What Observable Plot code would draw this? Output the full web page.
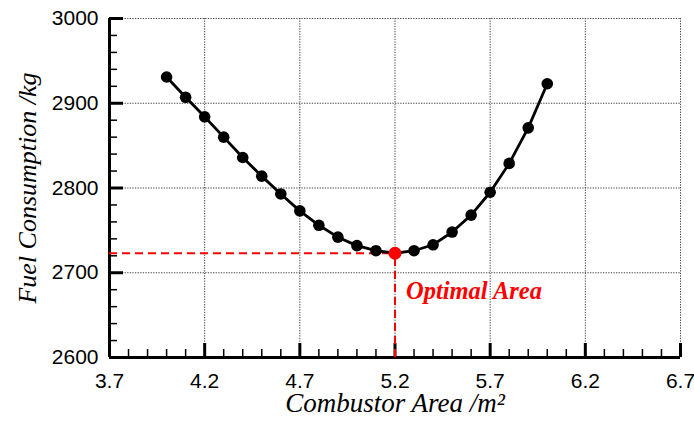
<!DOCTYPE html>
<html>
<head>
<meta charset="utf-8">
<script src="https://cdn.jsdelivr.net/npm/d3@7"></script>
<script src="https://cdn.jsdelivr.net/npm/@observablehq/plot@0.6"></script>
<style>
  html, body { margin: 0; padding: 0; background: #fff; }
</style>
</head>
<body>
<div id="chart"></div>
<script>
// Data
const area = [4.0, 4.1, 4.2, 4.3, 4.4, 4.5, 4.6, 4.7, 4.8, 4.9, 5.0, 5.1, 5.2, 5.3, 5.4, 5.5, 5.6, 5.7, 5.8, 5.9, 6.0];
const fuel = [2931, 2907, 2884, 2860, 2836, 2814, 2793, 2773, 2756, 2742, 2732, 2726, 2723, 2726, 2733, 2748, 2768, 2795, 2829, 2871, 2923];
const optimal = [{x: 5.2, y: 2723}];
const optimalLabel = "Optimal Area";

const xDomain = [3.7, 6.7];
const yDomain = [2600, 3000];
const xMajor = [3.7, 4.2, 4.7, 5.2, 5.7, 6.2, 6.7];
const yMajor = [2600, 2700, 2800, 2900, 3000];
const xMinor = d3.range(37, 68).map(d => d / 10);
const yMinor = d3.range(2600, 3001, 20);
const xTitle = "Combustor Area /m²";
const yTitle = "Fuel Consumption /kg";

const rows = area.map((x, i) => ({x, y: fuel[i]}));
const serif = "'Liberation Serif', 'Times New Roman', serif";

const chart = Plot.plot({
  width: 694,
  height: 426,
  marginLeft: 109,
  marginRight: 14,
  marginTop: 18,
  marginBottom: 69,
  style: {fontFamily: "'Liberation Sans', Arial, sans-serif", fontSize: "21px", background: "#fff", color: "#000"},
  x: {domain: xDomain, axis: null},
  y: {domain: yDomain, axis: null},
  marks: [
    Plot.gridX(xMajor, {stroke: "#444", strokeOpacity: 1, strokeWidth: 1, strokeDasharray: "1.3,1.3"}),
    Plot.gridY(yMajor, {stroke: "#444", strokeOpacity: 1, strokeWidth: 1, strokeDasharray: "1.3,1.3"}),
    // minor & major inward ticks (no labels)
    Plot.axisY(yMinor, {anchor: "left", tickSize: 8, dx: 8, fill: "none", label: null, strokeWidth: 1.5}),
    Plot.axisY(yMajor, {anchor: "left", tickSize: 14, dx: 14, fill: "none", label: null, strokeWidth: 3}),
    Plot.axisX(xMinor, {anchor: "bottom", tickSize: 8, dy: -8, fill: "none", label: null, strokeWidth: 1.5}),
    Plot.axisX(xMajor, {anchor: "bottom", tickSize: 14, dy: -14, fill: "none", label: null, strokeWidth: 3}),
    // tick labels
    Plot.axisY(yMajor, {anchor: "left", tickSize: 0, tickPadding: 11, fontSize: 21, label: null, tickFormat: d => String(d)}),
    Plot.axisX(xMajor, {anchor: "bottom", tickSize: 0, tickPadding: 16, fontSize: 21, label: null, tickFormat: d => d.toFixed(1)}),
    // axis lines
    Plot.ruleX([xDomain[0]], {stroke: "#000", strokeWidth: 3}),
    Plot.ruleY([yDomain[0]], {stroke: "#000", strokeWidth: 3}),
    // optimal guides
    Plot.ruleY(optimal, {y: "y", x1: xDomain[0], x2: "x", stroke: "#f00", strokeWidth: 2, strokeDasharray: "8,5"}),
    Plot.ruleX(optimal, {x: "x", y1: yDomain[0], y2: "y", stroke: "#f00", strokeWidth: 2, strokeDasharray: "8,5"}),
    // curve
    Plot.line(rows, {x: "x", y: "y", stroke: "#000", strokeWidth: 2.8}),
    Plot.dot(rows, {x: "x", y: "y", r: 5.8, fill: "#000", stroke: "none"}),
    Plot.dot(optimal, {x: "x", y: "y", r: 6.5, fill: "#f00", stroke: "none"}),
    Plot.text(optimal, {x: "x", y: "y", text: () => optimalLabel, dx: 11, dy: 46, textAnchor: "start", lineAnchor: "bottom",
      fill: "#f00", fontSize: 24.5, fontWeight: "bold", fontStyle: "italic", fontFamily: serif}),
    // axis titles
    Plot.text([xTitle], {frameAnchor: "bottom", dy: 54, textAnchor: "middle", lineAnchor: "bottom", fontSize: 27, fontStyle: "italic", fontFamily: serif, fill: "#000"}),
    Plot.text([yTitle], {frameAnchor: "left", dx: -74, rotate: -90, textAnchor: "middle", lineAnchor: "bottom", fontSize: 26, fontStyle: "italic", fontFamily: serif, fill: "#000"})
  ]
});
document.getElementById("chart").appendChild(chart);
</script>
</body>
</html>
